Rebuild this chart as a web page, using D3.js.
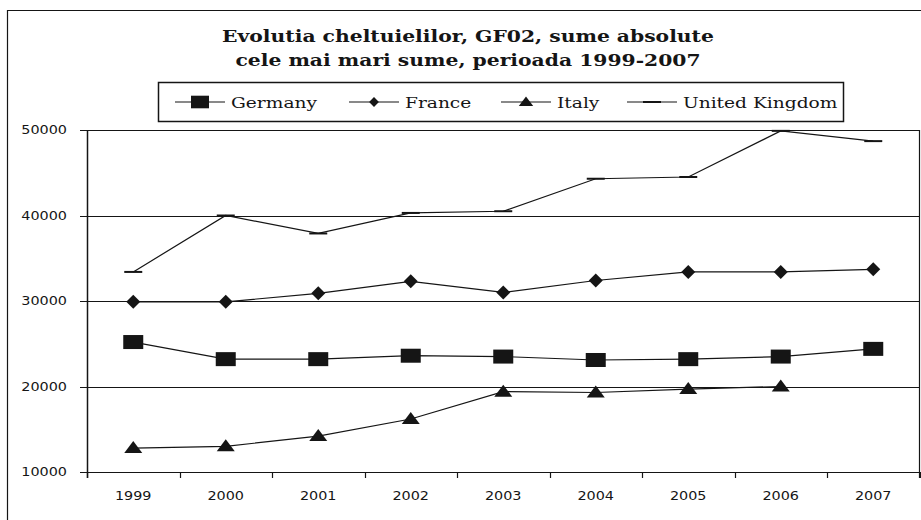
<!DOCTYPE html>
<html>
<head>
<meta charset="utf-8">
<title>Evolutia cheltuielilor GF02</title>
<script src="https://cdn.jsdelivr.net/npm/d3@7/dist/d3.min.js"></script>
<style>
  body { margin: 0; background: #fff; }
  svg { display: block; }
  .serif { font-family: "DejaVu Serif", "Liberation Serif", serif; }
  .sans { font-family: "DejaVu Sans", Verdana, sans-serif; }
</style>
</head>
<body>
<div id="chart"></div>
<script>
// data
const years = ["1999", "2000", "2001", "2002", "2003", "2004", "2005", "2006", "2007"];
const germany = [25200, 23200, 23200, 23600, 23500, 23100, 23200, 23500, 24400];
const france = [29900, 29900, 30900, 32300, 31000, 32400, 33400, 33400, 33700];
const italy = [12800, 13000, 14200, 16200, 19400, 19300, 19700, 20000, null];
const uk = [33400, 40000, 37900, 40300, 40500, 44300, 44500, 49900, 48700];
const seriesNames = ["Germany", "France", "Italy", "United Kingdom"];
const yTicks = [10000, 20000, 30000, 40000, 50000];
const titleLines = ["Evolutia cheltuielilor, GF02, sume absolute", "cele mai mari sume, perioada 1999-2007"];

const W = 921, H = 520;
const ink = "#151515";
const svg = d3.select("#chart").append("svg").attr("width", W).attr("height", H);

// the scan is wider than tall, so text gets stretched a bit
function stretch(sel, k) {
  sel.each(function () {
    const w = this.getComputedTextLength();
    d3.select(this).attr("textLength", w * k).attr("lengthAdjust", "spacingAndGlyphs");
  });
}

// outer frame (cut off at right and bottom)
svg.append("path")
  .attr("d", "M7.5,530 V10.5 H930")
  .attr("fill", "none").attr("stroke", ink).attr("stroke-width", 1.2);

// title
svg.append("g").selectAll("text").data(titleLines).join("text")
  .attr("class", "serif")
  .attr("x", 468).attr("y", (d, i) => 42 + i * 23.5)
  .attr("text-anchor", "middle")
  .attr("font-weight", "bold").attr("font-size", 16.5)
  .attr("fill", ink)
  .text(d => d)
  .call(stretch, 1.23);

// scales
const x = d3.scaleBand().domain(years).range([87, 919.5]);
const y = d3.scaleLinear().domain([10000, 50000]).range([472, 130]);
const cx = d => x(d) + x.bandwidth() / 2;

// gridlines
svg.append("g").selectAll("line").data(yTicks).join("line")
  .attr("x1", 80).attr("x2", 919.5)
  .attr("y1", d => Math.round(y(d)) + 0.5).attr("y2", d => Math.round(y(d)) + 0.5)
  .attr("stroke", ink).attr("stroke-width", 1.2);

// left axis and right border
svg.append("line").attr("x1", 87.5).attr("x2", 87.5).attr("y1", 130).attr("y2", 478)
  .attr("stroke", ink).attr("stroke-width", 1.5);
svg.append("line").attr("x1", 919.5).attr("x2", 919.5).attr("y1", 130).attr("y2", 478)
  .attr("stroke", ink).attr("stroke-width", 1.2);

// x ticks at band edges
const edges = years.map(d => x(d)).concat([x.range()[1]]);
svg.append("g").selectAll("line").data(edges).join("line")
  .attr("x1", d => Math.round(d) + 0.5).attr("x2", d => Math.round(d) + 0.5)
  .attr("y1", 472).attr("y2", 478)
  .attr("stroke", ink).attr("stroke-width", 1.2);

// y labels
svg.append("g").selectAll("text").data(yTicks).join("text")
  .attr("class", "sans")
  .attr("x", 67).attr("y", d => y(d)).attr("dy", "0.36em")
  .attr("text-anchor", "end")
  .attr("font-size", 11.5).attr("fill", ink)
  .text(d => d)
  .call(stretch, 1.25);

// x labels
svg.append("g").selectAll("text").data(years).join("text")
  .attr("class", "sans")
  .attr("x", d => cx(d)).attr("y", 500)
  .attr("text-anchor", "middle")
  .attr("font-size", 11.5).attr("fill", ink)
  .text(d => d)
  .call(stretch, 1.25);

// markers
const markers = {
  square: (g) => g.append("rect").attr("x", -10).attr("y", -7).attr("width", 20).attr("height", 14).attr("fill", ink),
  diamond: (g) => g.append("path").attr("d", "M0,-7 L7,0 L0,7 L-7,0 Z").attr("fill", ink),
  triangle: (g) => g.append("path").attr("d", "M0,-7 L9,5 L-9,5 Z").attr("fill", ink),
  dash: (g) => g.append("line").attr("x1", -9).attr("x2", 9).attr("stroke", ink).attr("stroke-width", 2)
};

const series = [
  { name: seriesNames[0], values: germany, marker: "square" },
  { name: seriesNames[1], values: france, marker: "diamond" },
  { name: seriesNames[2], values: italy, marker: "triangle" },
  { name: seriesNames[3], values: uk, marker: "dash" }
];

const line = d3.line()
  .defined(d => d.v != null)
  .x(d => cx(d.year)).y(d => y(d.v));

series.forEach(s => {
  const pts = years.map((yr, i) => ({ year: yr, v: s.values[i] }));
  svg.append("path").datum(pts)
    .attr("d", line)
    .attr("fill", "none").attr("stroke", ink).attr("stroke-width", 1.2);
  svg.append("g").selectAll("g").data(pts.filter(p => p.v != null)).join("g")
    .attr("transform", p => `translate(${cx(p.year)},${y(p.v)})`)
    .each(function () { markers[s.marker](d3.select(this)); });
});

// legend
svg.append("rect").attr("x", 158.5).attr("y", 82.5).attr("width", 685).attr("height", 39)
  .attr("fill", "#fff").attr("stroke", ink).attr("stroke-width", 1.5);
const legendX = [200, 374, 526, 652];
const legendItems = svg.append("g").selectAll("g").data(series).join("g")
  .attr("transform", (d, i) => `translate(${legendX[i]},102)`);
legendItems.append("line").attr("x1", -25).attr("x2", 25)
  .attr("stroke", ink).attr("stroke-width", 1.2);
legendItems.each(function (d) {
  const g = d3.select(this).append("g");
  if (d.marker === "square") g.attr("transform", "scale(0.9)");
  if (d.marker === "diamond") g.attr("transform", "scale(0.7)");
  if (d.marker === "triangle") g.attr("transform", "scale(0.8)");
  markers[d.marker](g);
});
legendItems.append("text")
  .attr("class", "serif")
  .attr("x", 31).attr("dy", "0.36em")
  .attr("font-size", 15.5).attr("fill", ink)
  .text(d => d.name)
  .call(stretch, 1.2);
</script>
</body>
</html>
